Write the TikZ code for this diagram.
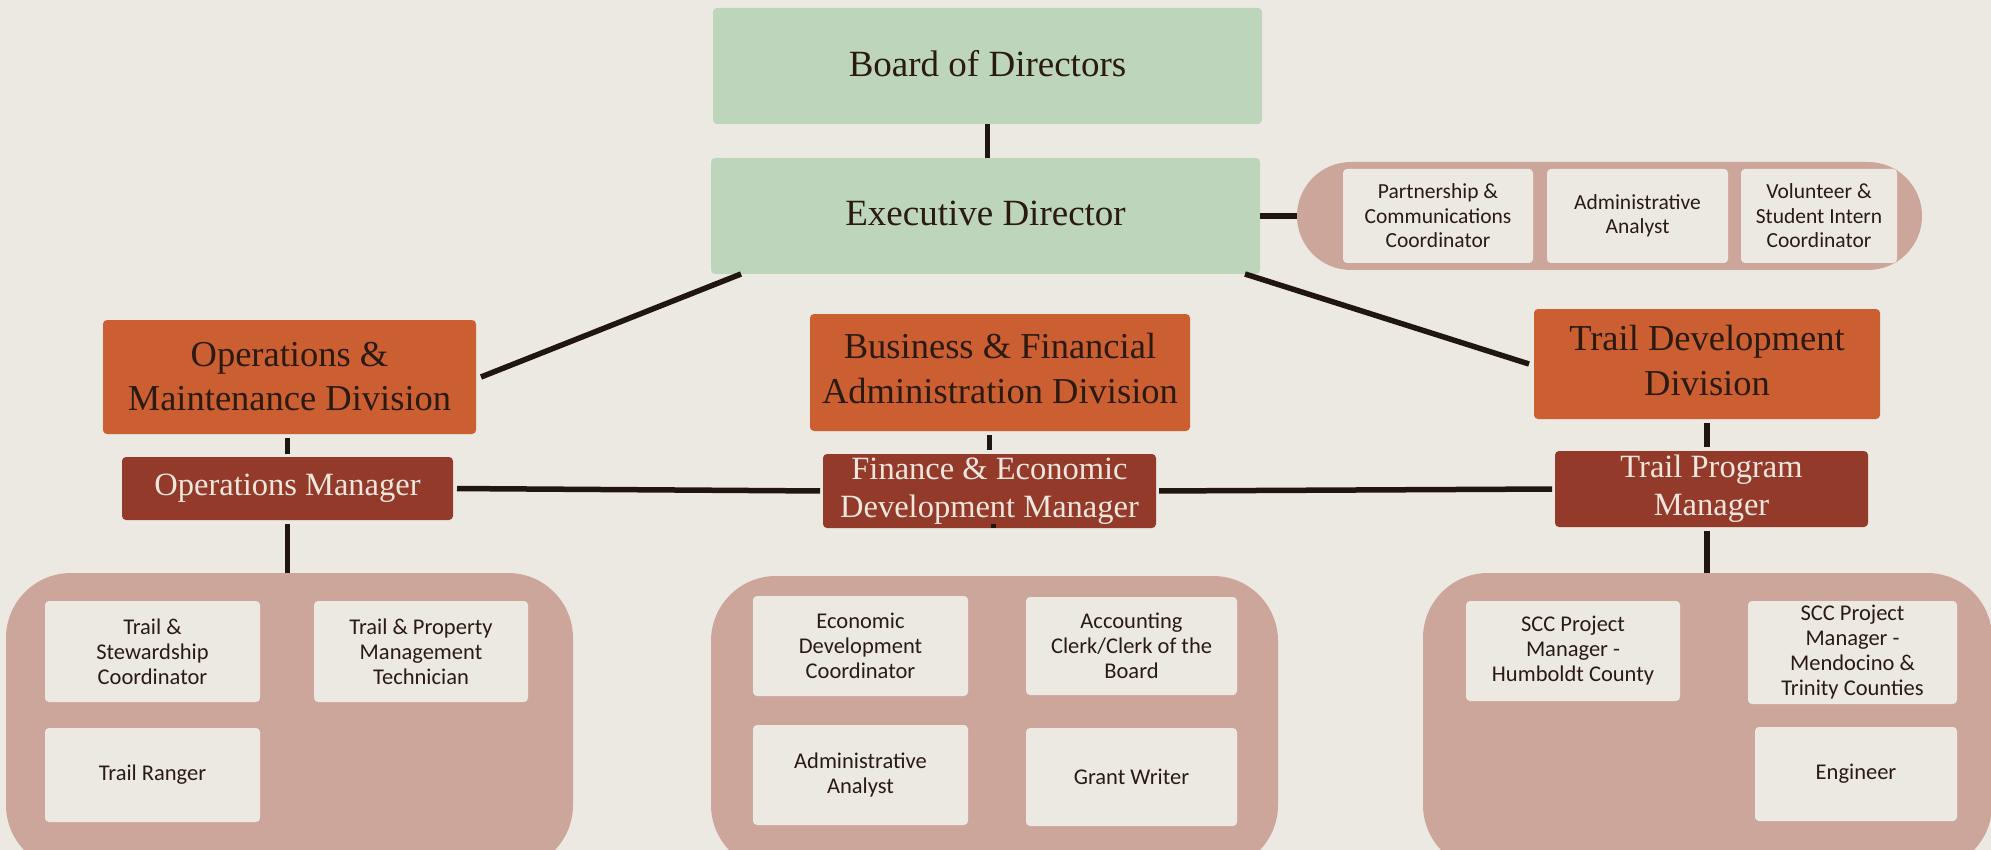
\documentclass[tikz,border=0pt]{standalone}
\usepackage{fontspec}
\setmainfont{Liberation Serif}
\newfontfamily\sansf{Carlito}
\usetikzlibrary{calc}
\definecolor{bgc}{HTML}{ECE9E2}
\definecolor{greenc}{HTML}{BDD5BB}
\definecolor{orangec}{HTML}{CC5F32}
\definecolor{mgrc}{HTML}{933A2A}
\definecolor{pillc}{HTML}{CCA69A}
\definecolor{inkc}{HTML}{21160F}
\definecolor{lightc}{HTML}{EFE7DE}
\definecolor{darkc}{HTML}{2A1A12}
\newcommand{\upby}[2]{\raisebox{#1}{\begin{tabular}{@{}c@{}}#2\end{tabular}}}
\begin{document}
\begin{tikzpicture}[x=1pt,y=-1pt,
  base/.style={inner sep=0pt,outer sep=0pt,align=center,rounded corners=4pt},
  topbox/.style={base,fill=greenc,text=darkc,font=\fontsize{37}{43}\selectfont},
  divbox/.style={base,fill=orangec,text=darkc,font=\fontsize{36.5}{44}\selectfont},
  mgrbox/.style={base,fill=mgrc,text=lightc,font=\fontsize{32.5}{38}\selectfont},
  grp/.style={inner sep=0pt,outer sep=0pt,fill=pillc},
  role/.style={base,fill=bgc,text=darkc,font=\sansf\fontsize{22.5}{25}\selectfont},
  link/.style={draw=inkc,line width=5.5pt}
]
\useasboundingbox (0,0) rectangle (1991,850);
\clip (0,0) rectangle (1991,850);
\fill[bgc] (0,0) rectangle (1991,850);

% top
\node[topbox,minimum width=549pt,minimum height=116pt] (board) at (987.5,66) {\raisebox{5pt}{Board of Directors}};
\node[topbox,minimum width=549pt,minimum height=116pt] (exec) at (985.5,216) {\raisebox{6pt}{Executive Director}};

% pill of staff
\node[grp,rounded corners=54pt,minimum width=625pt,minimum height=108pt] (pill) at (1609.5,216) {};
\node[role,font=\sansf\fontsize{21.5}{24.5}\selectfont,minimum width=190pt,minimum height=94pt] (p1) at (1438,216) {Partnership \&\\Communications\\Coordinator};
\node[role,font=\sansf\fontsize{21.5}{24.5}\selectfont,minimum width=181pt,minimum height=94pt] (p2) at (1637.5,216) {Administrative\\Analyst};
\node[role,font=\sansf\fontsize{21.5}{24.5}\selectfont,minimum width=156pt,minimum height=94pt] (p3) at (1819,216) {Volunteer \&\\Student Intern\\Coordinator};

% divisions
\node[divbox,minimum width=373pt,minimum height=114pt] (opsdiv) at (289.5,377) {Operations \&\\Maintenance Division};
\node[divbox,minimum width=380pt,minimum height=117pt] (bfadiv) at (1000,372.5) {\raisebox{4pt}{\begin{tabular}{@{}c@{}}Business \& Financial\\[1pt]Administration Division\end{tabular}}};
\node[divbox,minimum width=346pt,minimum height=110pt] (tddiv) at (1707,364) {\raisebox{2pt}{\begin{tabular}{@{}c@{}}Trail Development\\[1pt]Division\end{tabular}}};

% managers
\node[mgrbox,minimum width=331pt,minimum height=63pt] (opsmgr) at (287.5,488.5) {\raisebox{-2pt}{Operations Manager}};
\node[mgrbox,minimum width=333pt,minimum height=74pt] (femgr) at (989.5,491) {Finance \& Economic\\Development Manager};
\node[mgrbox,minimum width=313pt,minimum height=76pt] (tpmgr) at (1711.5,489) {Trail Program\\Manager};

% groups
\node[grp,rounded corners=65pt,minimum width=567pt,minimum height=297pt] (lg) at (289.5,721.5) {};
\node[grp,rounded corners=65pt,minimum width=567pt,minimum height=294pt] (mg) at (994.5,723) {};
\node[grp,rounded corners=65pt,minimum width=569pt,minimum height=297pt] (rg) at (1707.5,721.5) {};

% left group roles
\node[role,minimum width=215pt,minimum height=101pt] (tsc) at (152.5,651.5) {Trail \&\\Stewardship\\Coordinator};
\node[role,minimum width=214pt,minimum height=101pt] (tpmt) at (421,651.5) {Trail \& Property\\Management\\Technician};
\node[role,minimum width=215pt,minimum height=94pt] (tr) at (152.5,775) {Trail Ranger};

% middle group roles
\node[role,minimum width=215pt,minimum height=100pt] (edc) at (860.5,646) {Economic\\Development\\Coordinator};
\node[role,minimum width=211pt,minimum height=98pt] (acb) at (1131.5,646) {Accounting\\Clerk/Clerk of the\\Board};
\node[role,minimum width=215pt,minimum height=100pt] (aa) at (860.5,775) {Administrative\\Analyst};
\node[role,minimum width=211pt,minimum height=98pt] (gw) at (1131.5,777) {Grant Writer};

% right group roles
\node[role,minimum width=214pt,minimum height=100pt] (scch) at (1573,651) {SCC Project\\Manager -\\Humboldt County};
\node[role,minimum width=209pt,minimum height=103pt] (sccm) at (1852.5,652.5) {SCC Project\\Manager -\\Mendocino \&\\Trinity Counties};
\node[role,minimum width=202pt,minimum height=94pt] (eng) at (1856,774) {Engineer};

% connectors
\draw[link] (board.south) -- (board.south |- exec.north);
\draw[link] (exec.east) -- (pill.west);
\draw[link] ($(exec.south west)+(30,0)$) -- ($(opsdiv.east)+(5,0)$);
\draw[link] ($(exec.south)+(4,0)$) -- ($(exec.south)+(4,0)$ |- bfadiv.north);
\draw[link] ($(exec.south east)+(-15,0)$) -- ($(tddiv.west)+(-5,0)$);
\draw[link,shorten <=4pt,shorten >=3pt] (opsdiv.south -| opsmgr.south) -- (opsmgr.north);
\draw[link,shorten <=4pt,shorten >=4pt] (femgr.north) -- (femgr.north |- bfadiv.south);
\draw[link,shorten <=4pt,shorten >=4pt] (tddiv.south) -- (tddiv.south |- tpmgr.north);
\draw[link,shorten <=4pt,shorten >=3pt] (opsmgr.east) -- (femgr.west);
\draw[link,shorten <=3pt,shorten >=3pt] (femgr.east) -- (tpmgr.west);
\draw[link,shorten <=4pt] (opsmgr.south) -- (opsmgr.south |- lg.north);
\draw[link,shorten <=4pt] ($(femgr.south)+(4,0)$) -- ($(femgr.south)+(4,0)$ |- mg.north);
\draw[link,shorten <=4pt] (tddiv.south |- tpmgr.south) -- (tddiv.south |- rg.north);
\end{tikzpicture}
\end{document}
